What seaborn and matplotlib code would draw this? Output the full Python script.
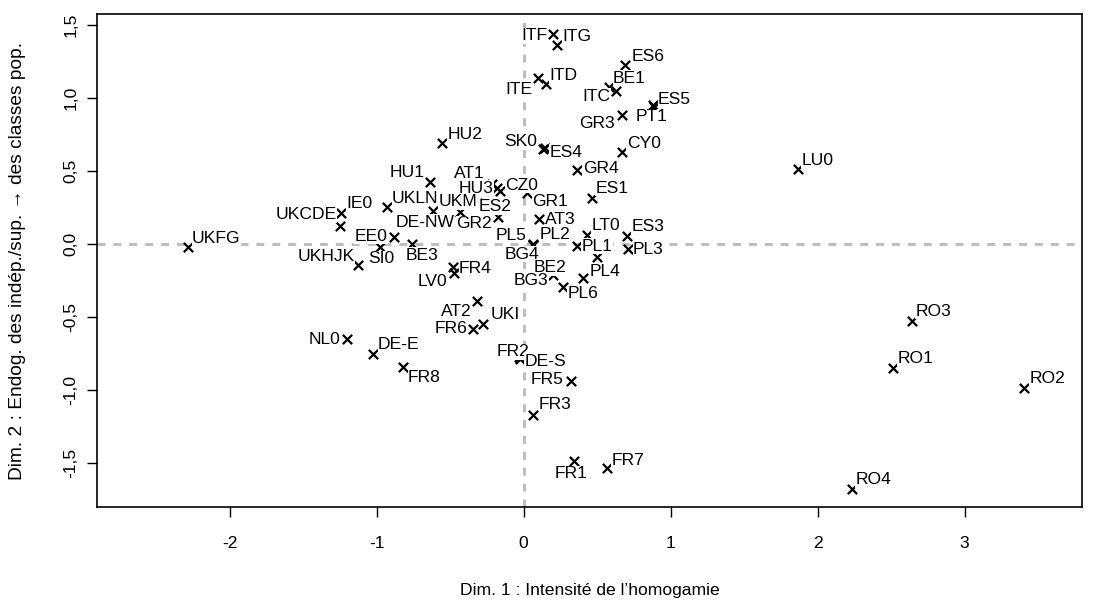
import pandas as pd
import seaborn as sns
import matplotlib.pyplot as plt

# régions NUTS et coordonnées sur les deux premières dimensions
regions = ["ITF", "ITG", "ES6", "BE1", "ITD", "ITE", "ITC", "ES5", "PT1", "GR3",
           "HU2", "SK0", "ES4", "GR4", "CY0", "LU0", "HU1", "AT1", "HU3", "CZ0",
           "ES1", "IE0", "UKLN", "UKM", "UKCDE", "DE-NW", "ES2", "GR2", "GR1", "AT3",
           "LT0", "ES3", "UKFG", "EE0", "BE3", "PL5", "PL2", "PL1", "PL3", "UKHJK",
           "SI0", "BG4", "FR4", "LV0", "BE2", "PL4", "BG3", "PL6", "AT2", "UKI",
           "FR6", "NL0", "DE-E", "FR8", "FR2", "DE-S", "FR5", "FR3", "FR1", "FR7",
           "RO3", "RO1", "RO2", "RO4"]
dim1 = [0.200, 0.227, 0.690, 0.581, 0.150, 0.096, 0.629, 0.880, 0.887, 0.667,
        -0.557, 0.132, 0.146, 0.361, 0.667, 1.865, -0.637, -0.215, -0.181, -0.157,
        0.463, -1.242, -0.927, -0.433, -1.249, -0.614, -0.320, -0.172, 0.025, 0.107,
        0.431, 0.701, -2.281, -0.880, -0.759, 0.061, 0.064, 0.363, 0.712, -1.124,
        -0.977, 0.061, -0.478, -0.473, 0.404, 0.501, 0.202, 0.270, -0.315, -0.278,
        -0.342, -1.203, -1.022, -0.818, -0.031, -0.024, 0.322, 0.066, 0.345, 0.565,
        2.640, 2.515, 3.406, 2.232]
dim2 = [1.438, 1.363, 1.229, 1.075, 1.096, 1.134, 1.048, 0.952, 0.935, 0.884,
        0.690, 0.651, 0.654, 0.507, 0.630, 0.512, 0.427, 0.411, 0.384, 0.360,
        0.317, 0.210, 0.251, 0.221, 0.123, 0.228, 0.281, 0.187, 0.351, 0.169,
        0.065, 0.055, -0.018, 0.050, -0.003, -0.007, -0.003, -0.014, -0.034, -0.144,
        -0.021, -0.010, -0.160, -0.197, -0.233, -0.087, -0.209, -0.292, -0.390, -0.548,
        -0.584, -0.653, -0.753, -0.845, -0.774, -0.788, -0.938, -1.171, -1.483, -1.536,
        -0.525, -0.847, -0.988, -1.678]

x_ticks = [-2, -1, 0, 1, 2, 3]
y_ticks = [-1.5, -1.0, -0.5, 0.0, 0.5, 1.0, 1.5]
y_tick_labels = ["-1,5", "-1,0", "-0,5", "0,0", "0,5", "1,0", "1,5"]

# décalage du centre de l'étiquette par rapport au point (pixels, droite / bas)
label_offsets = {
    "ITF": (-19, 0), "ITG": (20, -10.5), "ES6": (23, -10), "BE1": (20.5, -10.5),
    "ITD": (18, -10), "ITE": (-19, 9.5), "ITC": (-19.5, 3.5), "ES5": (21.5, -7),
    "PT1": (-2, 7.5), "GR3": (-25, 6.5), "HU2": (23, -11), "SK0": (-22, -9),
    "ES4": (21, 2), "GR4": (24, -3.5), "CY0": (22, -10.5), "LU0": (20, -11),
    "HU1": (-22.5, -11), "AT1": (-23, -12.5), "HU3": (-21, -1.7), "CZ0": (21, -8),
    "ES1": (20, -11), "IE0": (18, -12), "UKLN": (28, -11), "UKM": (-2, -11.7),
    "UKCDE": (-34, -13), "DE-NW": (-8, 9.5), "ES2": (18.5, 2), "GR2": (-24, 5),
    "GR1": (23, 7), "AT3": (21, -2), "LT0": (19, -10.5), "ES3": (21, -11),
    "UKFG": (28, -10), "EE0": (-23, -2), "BE3": (10, 9), "PL5": (-21, -11.5),
    "PL2": (22, -11.5), "PL1": (20, -1.5), "PL3": (20, -1.5), "UKHJK": (-32.5, -10.5),
    "SI0": (1, 9.5), "BG4": (-10.5, 7), "FR4": (22, -1), "LV0": (-22, 7),
    "BE2": (-33, -12), "PL4": (8, 13), "BG3": (-22, 4), "PL6": (20, 5),
    "AT2": (-21, 9), "UKI": (23, -11.5), "FR6": (-22, -2.6), "NL0": (-22, -2),
    "DE-E": (25.5, -11.5), "FR8": (21, 8), "FR2": (-6, -7), "DE-S": (25, 1),
    "FR5": (-23.5, -3), "FR3": (22, -12), "FR1": (-3, 11), "FR7": (21, -10),
    "RO3": (22, -11), "RO1": (22, -11), "RO2": (23, -11.5), "RO4": (22, -11),
}

df = pd.DataFrame({"region": regions, "dim1": dim1, "dim2": dim2})

sns.set_style("white")
plt.rcParams['font.family'] = ['Liberation Sans', 'DejaVu Sans']
plt.rcParams['font.size'] = 12.6
plt.rcParams['text.color'] = 'black'
plt.rcParams['axes.labelcolor'] = 'black'
plt.rcParams['xtick.color'] = 'black'
plt.rcParams['ytick.color'] = 'black'

fig = plt.figure(figsize=(10.96, 6.08), dpi=100)
ax = fig.add_axes([97 / 1096, 1 - 507 / 608, 985 / 1096, 493 / 608])

grey = "#bebebe"
ax.axhline(0, color=grey, lw=2.2, ls=(0, (2.6, 2.6)), zorder=1)
ax.axvline(0, color=grey, lw=2.2, ls=(0, (2.6, 2.6)), zorder=1)

sns.scatterplot(data=df, x="dim1", y="dim2", marker="x", color="black",
                s=45, linewidth=1.6, ax=ax, zorder=2, legend=False)

cap_half = 6.3
for name, x, y in zip(df["region"], df["dim1"], df["dim2"]):
    dx, dy = label_offsets[name]
    ax.annotate(name, (x, y), xytext=(dx, -dy - cap_half),
                textcoords="offset pixels", ha="center", va="baseline",
                fontsize=12.6, color="black", zorder=3,
                bbox=dict(boxstyle="square,pad=0.02", fc="white", ec="none"))

ax.set_xlim(-2.902, 3.799)
ax.set_ylim(-1.801, 1.575)
ax.set_xticks(x_ticks)
ax.set_xticklabels([str(t) for t in x_ticks])
ax.set_yticks(y_ticks)
ax.set_yticklabels(y_tick_labels, rotation=90, va="center")
ax.tick_params(axis="x", direction="out", length=7, width=1.0, color="black",
               labelsize=12.6, pad=14, bottom=True)
ax.tick_params(axis="y", direction="out", length=7, width=1.0, color="black",
               labelsize=12.6, pad=6.5, left=True)

for sp in ax.spines.values():
    sp.set_color("black")
    sp.set_linewidth(1.2)

ax.set_xlabel("Dim. 1 : Intensité de l’homogamie", fontsize=12.6)
ax.set_ylabel("Dim. 2 : Endog. des indép./sup. → des classes pop.", fontsize=13.8)
ax.xaxis.set_label_coords(0.5, -0.154)
ax.yaxis.set_label_coords(-0.072, 0.5)

fig.savefig("out.png", dpi=100)
